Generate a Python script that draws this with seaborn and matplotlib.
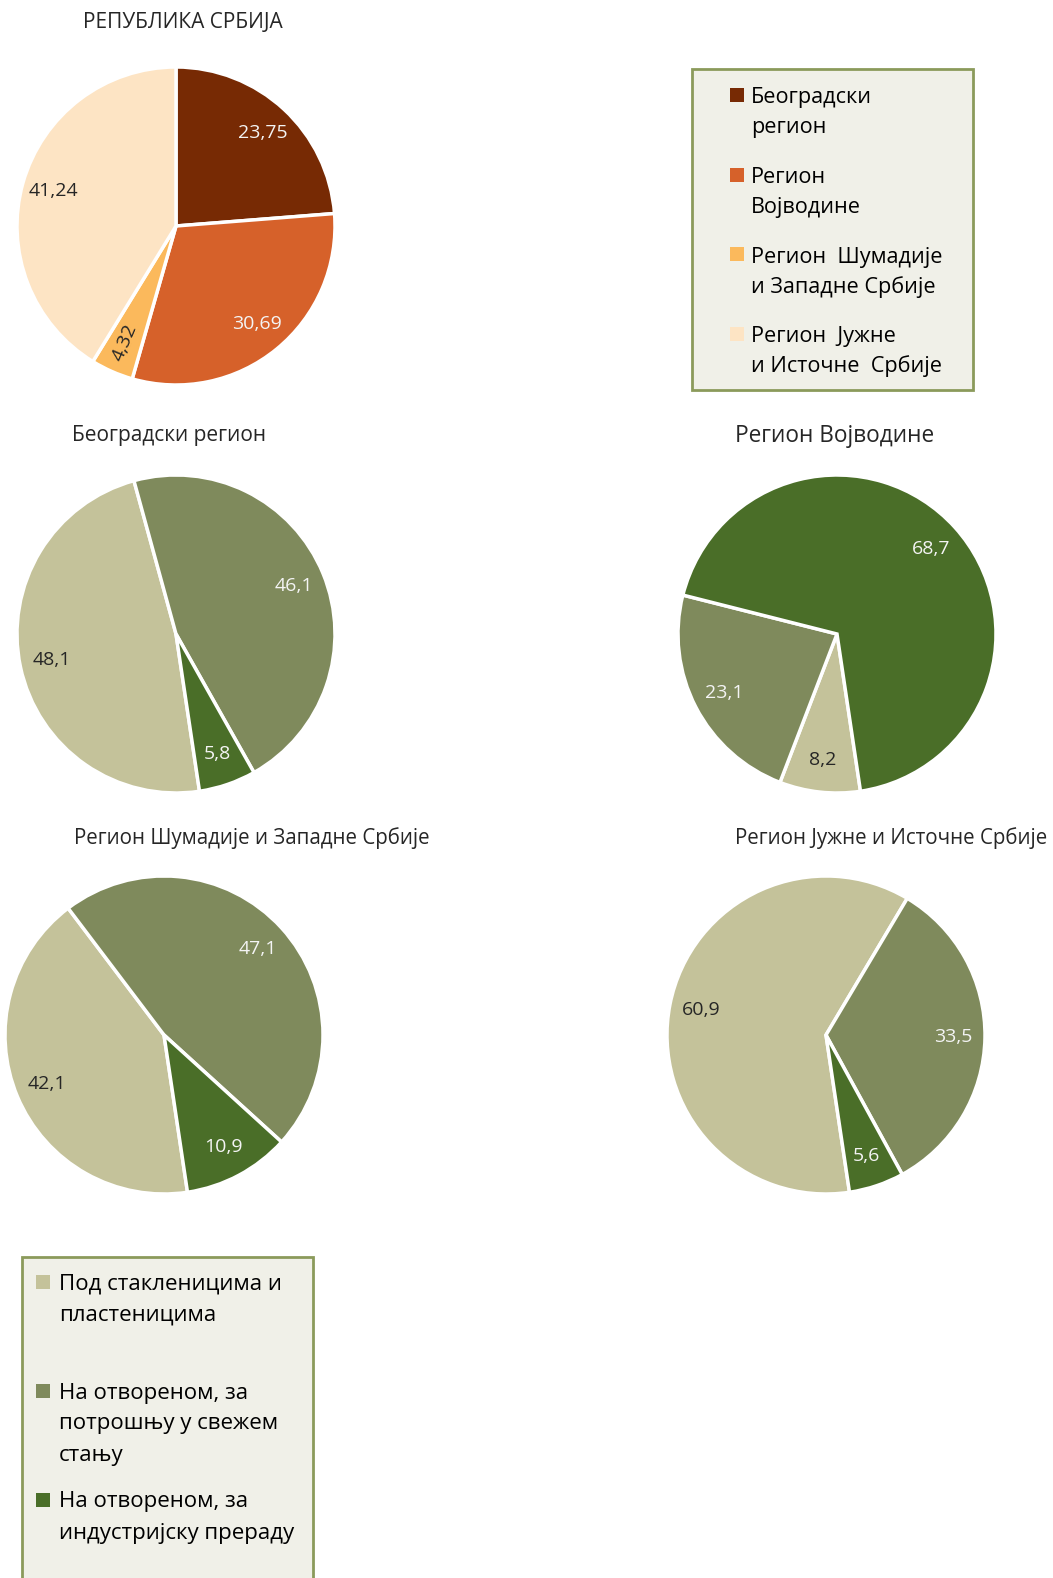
import numpy as np
import matplotlib
matplotlib.use("Agg")
import matplotlib.pyplot as plt
from matplotlib.patches import Rectangle
import seaborn as sns

# data
regions = ["Београдски\nрегион", "Регион\nВојводине",
           "Регион  Шумадије\nи Западне Србије", "Регион  Јужне\nи Источне  Србије"]
region_shares = [23.75, 30.69, 4.32, 41.24]
region_colors = ["#772a04", "#d6612a", "#fbb95c", "#fde4c4"]

categories = ["Под стакленицима и\nпластеницима",
              "На отвореном, за\nпотрошњу у свежем\nстању",
              "На отвореном, за\nиндустријску прераду"]
cat_colors = ["#c4c29a", "#7f8a5c", "#4a6e28"]

beograd = [48.1, 46.1, 5.8]
vojvodina = [8.2, 23.1, 68.7]
sumadija = [42.1, 47.1, 10.9]
juzna = [60.9, 33.5, 5.6]

sns.set_theme(style="white")
plt.rcParams["font.family"] = ["Open Sans", "DejaVu Sans"]

W, H = 1053, 1578
fig = plt.figure(figsize=(W / 100, H / 100), dpi=100)
fig.patch.set_facecolor("white")

LIGHT = "#f4f4f4"
DARK = "#262626"


def fx(x):
    return x / W


def fy(y):
    return 1 - y / H


def pie_at(cx, cy, r, values, colors, startangle, fmt, label_colors, dist=0.8):
    ax = fig.add_axes([fx(cx - r), fy(cy + r), 2 * r / W, 2 * r / H])
    wedges, texts = ax.pie(values, colors=colors, startangle=startangle,
                           counterclock=False, radius=1,
                           labels=[fmt(v) for v in values],
                           labeldistance=dist,
                           wedgeprops=dict(edgecolor="white", linewidth=2.5),
                           textprops=dict(fontsize=14))
    for t, c in zip(texts, label_colors):
        t.set_color(c)
        t.set_ha("center")
        t.set_va("center")
    ax.set_xlim(-1, 1)
    ax.set_ylim(-1, 1)
    ax.set_aspect("equal")
    ax.axis("off")
    return texts


fmt2 = lambda v: f"{v:.2f}".replace(".", ",")
fmt1 = lambda v: f"{v:.1f}".replace(".", ",")

R = 159

# Republika Srbija
texts = pie_at(176, 226, R, region_shares, region_colors, 90, fmt2,
               [LIGHT, LIGHT, DARK, DARK])
texts[2].set_rotation(67)
fig.text(fx(183), fy(22), "РЕПУБЛИКА СРБИЈА", ha="center", va="center",
         fontsize=15, color=DARK)

start = 90 - 171.5
pie_at(176, 634, R, beograd, cat_colors, start, fmt1, [DARK, LIGHT, LIGHT])
fig.text(fx(169), fy(436), "Београдски регион", ha="center", va="center",
         fontsize=15, color=DARK)

pie_at(837, 634, R, vojvodina, cat_colors, start, fmt1, [DARK, LIGHT, LIGHT])
fig.text(fx(835), fy(436), "Регион Војводине", ha="center", va="center",
         fontsize=16.3, color=DARK)

pie_at(164, 1035, R, sumadija, cat_colors, start, fmt1, [DARK, LIGHT, LIGHT])
fig.text(fx(74), fy(838), "Регион Шумадије и Западне Србије", ha="left", va="center",
         fontsize=14.8, color=DARK)

pie_at(826, 1035, R, juzna, cat_colors, start, fmt1, [DARK, LIGHT, LIGHT])
fig.text(fx(735), fy(838), "Регион Јужне и Источне Србије", ha="left", va="center",
         fontsize=14.8, color=DARK)

BOX_BG = "#f0f0e8"
BOX_EDGE = "#8b9a5b"

# legend for regions
fig.patches.append(Rectangle((fx(692), fy(390)), fx(973) - fx(692), fy(69) - fy(390),
                             transform=fig.transFigure, facecolor=BOX_BG,
                             edgecolor=BOX_EDGE, linewidth=2, zorder=0))
for i, (lab, col) in enumerate(zip(regions, region_colors)):
    y0 = 98 + i * 79.5
    fig.patches.append(Rectangle((fx(730), fy(y0 + 4)), 14 / W, 14 / H,
                                 transform=fig.transFigure, facecolor=col,
                                 edgecolor="none"))
    for j, line in enumerate(lab.split("\n")):
        fig.text(fx(751), fy(y0 + j * 30), line, ha="left", va="center",
                 fontsize=15.6, color="black")

# legend for categories
fig.patches.append(Rectangle((fx(22), fy(1590)), fx(313) - fx(22), fy(1257) - fy(1590),
                             transform=fig.transFigure, facecolor=BOX_BG,
                             edgecolor=BOX_EDGE, linewidth=2, zorder=0))
cat_y = [1284, 1393, 1502]
for lab, col, y0 in zip(categories, cat_colors, cat_y):
    fig.patches.append(Rectangle((fx(36), fy(y0 + 5)), 14 / W, 14 / H,
                                 transform=fig.transFigure, facecolor=col,
                                 edgecolor="none"))
    for j, line in enumerate(lab.split("\n")):
        fig.text(fx(59), fy(y0 + j * 31), line, ha="left", va="center",
                 fontsize=16, color="black")

fig.savefig("out.png", dpi=100)
